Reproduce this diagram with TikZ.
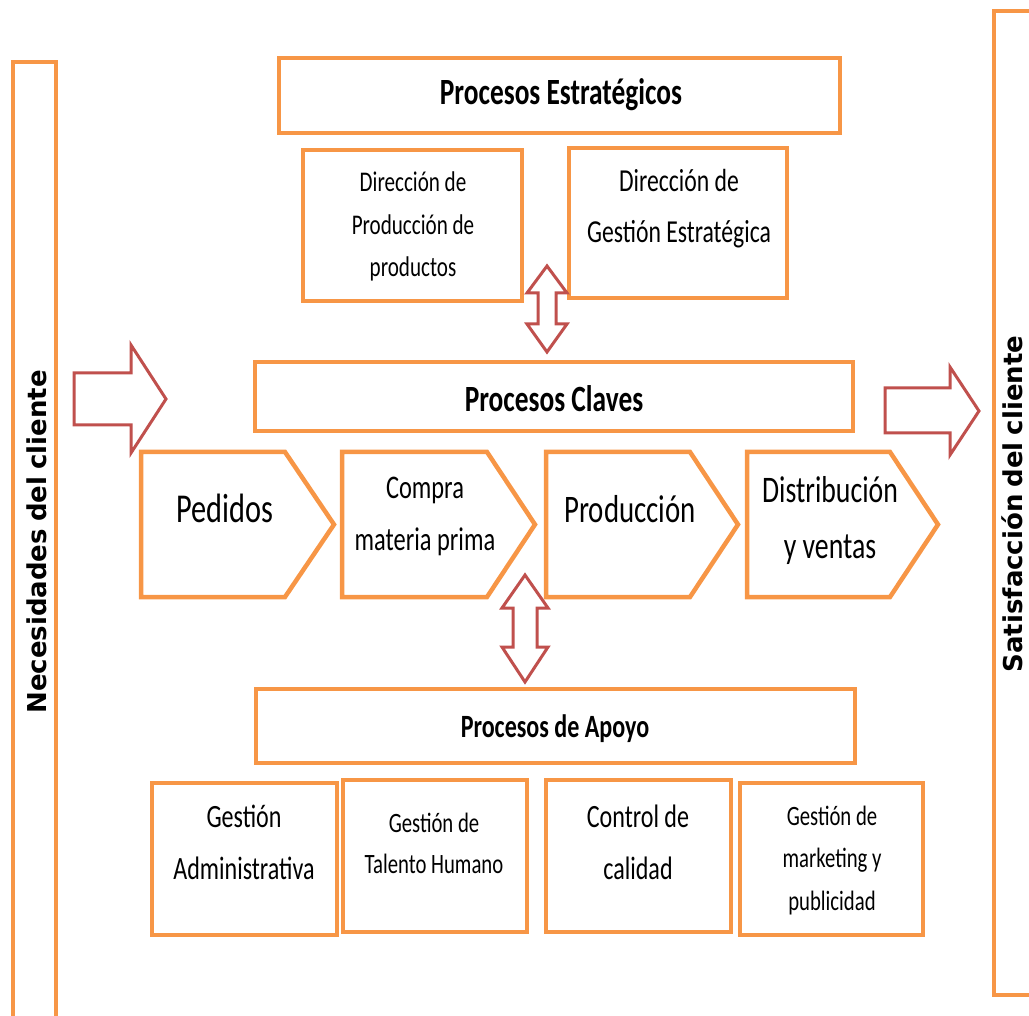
\documentclass[tikz,border=0pt]{standalone}
\usepackage{fontspec}
\setmainfont{Carlito}[FakeStretch=0.74]
\newfontfamily\rotfont{DejaVu Sans}
\definecolor{procorange}{HTML}{F79646}
\definecolor{arrowred}{HTML}{C0504D}
\tikzset{
  obox/.style={draw=procorange, line width=4.5pt, line join=miter},
  rarrow/.style={draw=arrowred, line width=3pt, fill=white, line join=miter},
  txt/.style={align=center, anchor=base, inner sep=0pt, text=black},
  rottxt/.style={rotate=90, inner sep=0pt, text=black, font=\rotfont\bfseries\fontsize{26}{30}\selectfont},
}
\newcommand{\fsz}[2]{\fontsize{#1}{#2}\selectfont}
\begin{document}
\begin{tikzpicture}[x=1pt,y=-1pt]
\useasboundingbox (0,0) rectangle (1029,1016);
\clip (0,0) rectangle (1029,1016);

% side bars
\draw[obox] (13,62) rectangle (56,1040);
\draw[obox] (994,11) rectangle (1045,995);
\node[rottxt] (nec) at (37,542) {Necesidades\kern-2pt\ del\kern-2pt\ cliente};
\node[rottxt] (sat) at (1012,504) {Satisfacción\kern-2pt\ del\kern-2pt\ cliente};

% strategic processes
\draw[obox] (279,58) rectangle (840,133);
\node[txt, font=\bfseries\fsz{37}{44}] (pe) at (561,105) {Procesos Estratégicos};
\draw[obox] (303,150) rectangle (522,301);
\node[txt, font=\fsz{28.5}{42.5}] (dp) at (413,277) {Dirección de\\Producción de\\productos};
\draw[obox] (569,148) rectangle (787,298);
\node[txt, font=\fsz{32}{51}] (dg) at (679,243) {Dirección de\\Gestión Estratégica};

% top double arrow
\coordinate (ta) at (547,266);
\draw[rarrow] (ta) -- ++(20,27) -- ++(-11,0) -- ++(0,31) -- ++(11,0) -- (547,352)
  -- ++(-20,-28) -- ++(11,0) -- ++(0,-31) -- ++(-11,0) -- cycle;

% key processes
\draw[obox] (255,362) rectangle (853,431);
\node[txt, font=\bfseries\fsz{37}{44}] (pc) at (554,411.5) {Procesos Claves};

% left / right block arrows
\coordinate (la) at (74,373);
\draw[rarrow] (la) -- (131,373) -- (131,345) -- (166,399) -- (131,453) -- (131,425) -- (74,425) -- cycle;
\coordinate (ra) at (885,388);
\draw[rarrow] (ra) -- (950,388) -- (950,367) -- (979,411) -- (950,455) -- (950,433) -- (885,433) -- cycle;

% chevrons
\draw[obox] (141,452) -- (285,452) -- (334,524.5) -- (285,597) -- (141,597) -- cycle;
\node[txt, font=\fsz{41}{50}] (ped) at (225,522) {Pedidos};
\draw[obox] (342,452) -- (487,452) -- (535,524.5) -- (487,597) -- (342,597) -- cycle;
\node[txt, font=\fsz{33}{52}] (com) at (425,550) {Compra\\materia prima};
\draw[obox] (546,452) -- (690,452) -- (738,524.5) -- (690,597) -- (546,597) -- cycle;
\node[txt, font=\fsz{39}{50}] (pro) at (630,522) {Producción};
\draw[obox] (747,452) -- (890,452) -- (938,524.5) -- (890,597) -- (747,597) -- cycle;
\node[txt, font=\fsz{37.5}{56}] (dis) at (830,558) {Distribución\\y ventas};

% bottom double arrow
\coordinate (ba) at (525,575);
\draw[rarrow] (ba) -- ++(23,33) -- ++(-11,0) -- ++(0,39) -- ++(11,0) -- (525,682)
  -- ++(-23,-35) -- ++(11,0) -- ++(0,-39) -- ++(-11,0) -- cycle;

% support processes
\draw[obox] (256,689) rectangle (855,763);
\node[txt, font=\bfseries\fsz{32.5}{40}] (pa) at (555,737) {Procesos de Apoyo};
\draw[obox] (152,783) rectangle (337,935);
\node[txt, font=\fsz{32.5}{52}] (ga) at (244,879) {Gestión\\Administrativa};
\draw[obox] (343,780) rectangle (527,932);
\node[txt, font=\fsz{28}{41}] (gt) at (434,873) {Gestión de\\Talento Humano};
\draw[obox] (546,780) rectangle (731,932);
\node[txt, font=\fsz{32.5}{52}] (cc) at (638,879) {Control de\\calidad};
\draw[obox] (740,783) rectangle (923,935);
\node[txt, font=\fsz{28}{42.5}] (gm) at (832,910) {Gestión de\\marketing y\\publicidad};
\end{tikzpicture}
\end{document}
